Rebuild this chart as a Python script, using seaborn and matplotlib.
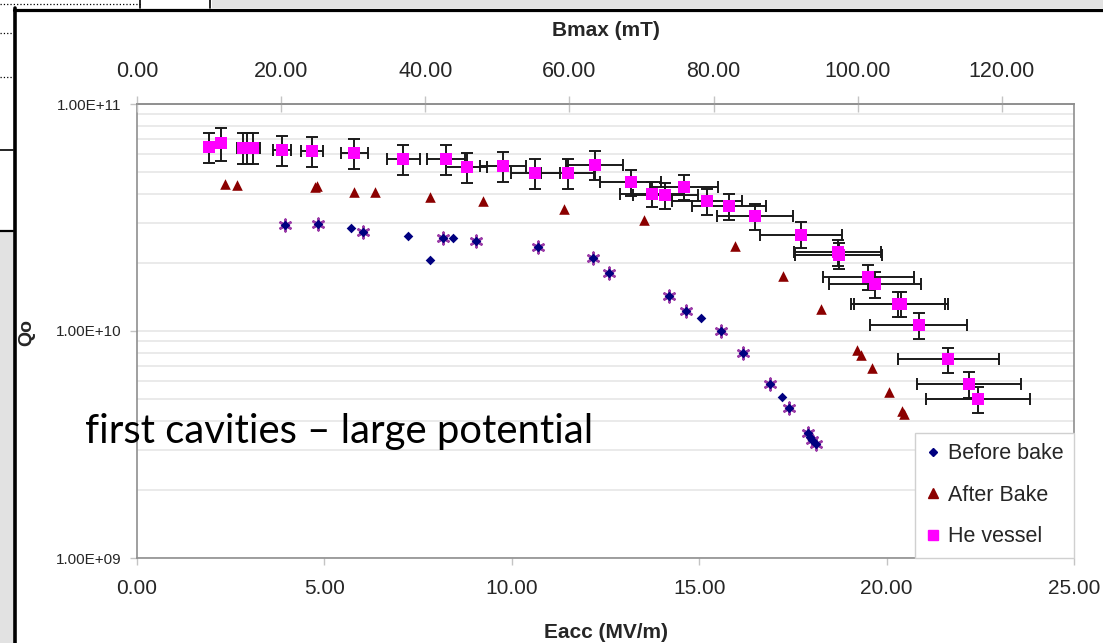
import matplotlib
matplotlib.use("Agg")
import matplotlib.pyplot as plt
import seaborn as sns
from matplotlib.lines import Line2D
from matplotlib.patches import Rectangle
from matplotlib.ticker import FixedLocator, FuncFormatter, LogLocator, NullFormatter

# ---------------------------------------------------------------- data
# Before bake (diamonds)
before_eacc = [3.95, 4.84, 5.71, 6.04, 7.23, 7.82, 8.16, 8.43, 9.05, 10.71, 12.16, 12.60,
               14.19, 14.65, 15.05, 15.57, 16.18, 16.90, 17.20, 17.40, 17.89, 17.95, 18.02, 18.11]
before_q = [2.93e10, 2.96e10, 2.84e10, 2.74e10, 2.63e10, 2.05e10, 2.58e10, 2.58e10, 2.50e10,
            2.34e10, 2.10e10, 1.81e10, 1.43e10, 1.23e10, 1.14e10, 9.95e9, 8.02e9, 5.82e9,
            5.10e9, 4.56e9, 3.54e9, 3.41e9, 3.31e9, 3.17e9]

# Repeat run before bake (star markers, no legend entry)
repeat_eacc = [3.95, 4.84, 6.04, 8.16, 9.05, 10.71, 12.16, 12.60, 14.19, 14.65, 15.57, 16.18,
               16.90, 17.40, 17.89, 18.02, 18.11]
repeat_q = [2.93e10, 2.96e10, 2.74e10, 2.58e10, 2.50e10, 2.34e10, 2.10e10, 1.81e10, 1.43e10,
            1.23e10, 9.95e9, 8.02e9, 5.82e9, 4.56e9, 3.54e9, 3.31e9, 3.17e9]

# After bake (triangles)
after_eacc = [2.35, 2.66, 4.74, 4.80, 5.79, 6.34, 7.82, 9.24, 11.40, 13.53, 15.95, 17.23,
              18.24, 19.21, 19.32, 19.60, 20.07, 20.40, 20.47]
after_q = [4.43e10, 4.40e10, 4.29e10, 4.35e10, 4.11e10, 4.11e10, 3.89e10, 3.74e10, 3.45e10,
           3.08e10, 2.36e10, 1.75e10, 1.25e10, 8.28e9, 7.84e9, 6.85e9, 5.36e9, 4.44e9, 4.30e9]

# With He vessel (squares with error bars)
he_eacc = [1.93, 2.24, 2.84, 2.94, 3.10, 3.86, 4.66, 5.79, 7.11, 8.24, 8.80, 9.77, 10.63,
           11.49, 12.21, 13.17, 13.75, 14.10, 14.59, 15.21, 15.80, 16.49, 17.71, 18.69, 18.72,
           19.51, 19.69, 20.31, 20.38, 20.86, 21.65, 22.20, 22.44]
he_q = [6.48e10, 6.71e10, 6.42e10, 6.42e10, 6.42e10, 6.27e10, 6.21e10, 6.07e10, 5.73e10,
        5.73e10, 5.29e10, 5.34e10, 4.98e10, 4.98e10, 5.41e10, 4.52e10, 4.02e10, 3.96e10,
        4.33e10, 3.74e10, 3.54e10, 3.20e10, 2.66e10, 2.23e10, 2.16e10, 1.73e10, 1.61e10,
        1.32e10, 1.32e10, 1.06e10, 7.50e9, 5.82e9, 5.00e9]
he_eacc_err = [0.12, 0.14, 0.18, 0.18, 0.19, 0.24, 0.29, 0.36, 0.44, 0.51, 0.55, 0.61, 0.66,
               0.71, 0.76, 0.82, 0.85, 0.87, 0.90, 0.94, 0.98, 1.02, 1.10, 1.16, 1.16, 1.21,
               1.22, 1.26, 1.26, 1.29, 1.34, 1.38, 1.39]
he_q_err = [1.0e10, 1.1e10, 1.0e10, 1.0e10, 1.0e10, 0.95e10, 0.95e10, 0.92e10, 0.87e10,
            0.87e10, 0.80e10, 0.81e10, 0.74e10, 0.74e10, 0.80e10, 0.59e10, 0.52e10, 0.51e10,
            0.56e10, 0.49e10, 0.46e10, 0.42e10, 0.35e10, 0.29e10, 0.28e10, 0.22e10, 0.21e10,
            0.17e10, 0.17e10, 0.135e10, 0.095e10, 0.075e10, 0.065e10]

series_labels = ["Before bake", "After Bake", "He vessel"]
eacc_ticks = [0, 5, 10, 15, 20, 25]
bmax_ticks = [0, 20, 40, 60, 80, 100, 120]
q_ticks = [1e9, 1e10, 1e11]
BMAX_PER_EACC = 5.2  # mT per MV/m

# ---------------------------------------------------------------- style
sns.set_theme(style="white")
plt.rcParams["font.family"] = ["Liberation Sans", "DejaVu Sans"]

NAVY = "#000080"
DARKRED = "#8b0000"
MAGENTA = "#ff00ff"
STAR = "#9b3ca8"
GRID = "#e8e8e8"
SPINE = "#8f8f8f"
TICK = "#c4c4c4"

W, H = 1103, 643
fig = plt.figure(figsize=(W / 100, H / 100), dpi=100, facecolor="white")


def fx(px):
    return px / W


def fy(py):
    return 1 - py / H


# ---------------------------------------------------------------- slide frame
fig.add_artist(Rectangle((0, fy(H)), fx(14), (H - 232) / H, transform=fig.transFigure,
                         color="#e2e2e2", lw=0, zorder=0))
fig.add_artist(Rectangle((fx(212), fy(8)), fx(W - 212), 8 / H, transform=fig.transFigure,
                         color="#e2e2e2", lw=0, zorder=0))
frame_lines = [
    ((14, W), (9.5, 9.5), 2.3, "-"),
    ((14.8, 14.8), (8, H), 2.6, "-"),
    ((0, 140), (3.5, 3.5), 0.9, ":"),
    ((0, 13), (33, 33), 0.9, ":"),
    ((0, 13), (77, 77), 0.9, ":"),
    ((140, 140), (0, 8), 1.2, "-"),
    ((210, 210), (0, 8), 1.2, "-"),
    ((0, 13), (150, 150), 1.2, "-"),
    ((0, 13), (231, 231), 1.6, "-"),
]
for xs, ys, lw, ls in frame_lines:
    fig.add_artist(Line2D([fx(v) for v in xs], [fy(v) for v in ys], transform=fig.transFigure,
                          color="black", lw=lw, ls=ls, zorder=1))

# ---------------------------------------------------------------- axes
ax = fig.add_axes([fx(137), fy(558), (1074 - 137) / W, (558 - 104) / H])
ax.set_facecolor("white")
ax.set_yscale("log")
ax.set_xlim(eacc_ticks[0], eacc_ticks[-1])
ax.set_ylim(q_ticks[0], q_ticks[-1])

ax.yaxis.set_major_locator(FixedLocator(q_ticks))
ax.yaxis.set_minor_locator(LogLocator(base=10, subs=range(2, 10)))
ax.yaxis.set_minor_formatter(NullFormatter())
ax.yaxis.set_major_formatter(FuncFormatter(lambda v, p: f"{v:.2E}"))
ax.xaxis.set_major_locator(FixedLocator(eacc_ticks))
ax.xaxis.set_major_formatter(FuncFormatter(lambda v, p: f"{v:.2f}"))

ax.grid(True, which="both", axis="y", color=GRID, lw=1.3)
ax.grid(False, axis="x")
ax.set_axisbelow(True)

for side in ["left", "bottom", "right", "top"]:
    ax.spines[side].set_color(SPINE)
    ax.spines[side].set_linewidth(1.2)

ax.tick_params(axis="y", which="major", direction="out", length=5, width=1, color=TICK,
               labelsize=11, pad=6, left=True)
ax.tick_params(axis="y", which="minor", length=0)
ax.tick_params(axis="x", which="major", direction="out", length=5, width=1, color=TICK,
               labelsize=15, pad=10, bottom=True)

# error bars under the square markers
ax.errorbar(he_eacc, he_q, xerr=he_eacc_err, yerr=he_q_err, fmt="none", ecolor="#1a1a1a",
            elinewidth=1.4, capsize=4, capthick=1.4, zorder=3)

sns.scatterplot(x=repeat_eacc, y=repeat_q, marker=(6, 2, 0), color=STAR, s=70,
                linewidth=1.8, ax=ax, legend=False, zorder=4)
sns.scatterplot(x=before_eacc, y=before_q, marker="D", color=NAVY, s=24, linewidth=0,
                ax=ax, legend=False, zorder=5)
sns.scatterplot(x=after_eacc, y=after_q, marker="^", color=DARKRED, s=58, linewidth=0,
                ax=ax, legend=False, zorder=5)
sns.scatterplot(x=he_eacc, y=he_q, marker="s", color=MAGENTA, s=66, linewidth=0,
                ax=ax, legend=False, zorder=6)

ax.set_xlabel("Eacc (MV/m)", fontsize=15, fontweight="bold", labelpad=18)
ax.set_ylabel("")

# secondary scale: peak surface magnetic field
ax2 = ax.twiny()
ax2.set_xlim(eacc_ticks[0] * BMAX_PER_EACC, eacc_ticks[-1] * BMAX_PER_EACC)
ax2.xaxis.set_major_locator(FixedLocator(bmax_ticks))
ax2.xaxis.set_major_formatter(FuncFormatter(lambda v, p: f"{v:.2f}"))
ax2.tick_params(axis="x", which="major", direction="inout", length=12, width=1, color=TICK,
                labelsize=15.5, pad=10)
for side in ["left", "bottom", "right"]:
    ax2.spines[side].set_visible(False)
ax2.spines["top"].set_color(SPINE)
ax2.spines["top"].set_linewidth(1.2)
ax2.set_xlabel("Bmax (mT)", fontsize=15, fontweight="bold", labelpad=18)
ax2.grid(False)

fig.text(fx(27), fy(333), "Qo", rotation=90, ha="center", va="center",
         fontsize=14, fontweight="bold")

# legend
handles = [
    Line2D([], [], marker="D", color=NAVY, ls="none", markersize=4.5),
    Line2D([], [], marker="^", color=DARKRED, ls="none", markersize=7),
    Line2D([], [], marker="s", color=MAGENTA, ls="none", markersize=6.5),
]
leg = ax2.legend(handles, series_labels, loc="lower right", bbox_to_anchor=(1.0, 0.0),
                 bbox_transform=ax.transAxes, borderaxespad=0, fontsize=15.5,
                 frameon=True, fancybox=False, framealpha=1, edgecolor="#d0d0d0",
                 handlelength=0.6, handletextpad=0.4, labelspacing=0.95, borderpad=0.5)
leg.get_frame().set_linewidth(1.0)
leg.set_zorder(10)

# slide annotation, sized to its line width
note = fig.text(fx(85), fy(443), "first cavities \u2013 large potential", ha="left",
                va="baseline", fontsize=28, family=["Lato", "DejaVu Sans"], weight="normal",
                color="black", zorder=20)
fig.canvas.draw()
bb = note.get_window_extent()
note.set_fontsize(28 * (593 - 85) / bb.width)

fig.savefig("out.png", dpi=100, facecolor="white")
